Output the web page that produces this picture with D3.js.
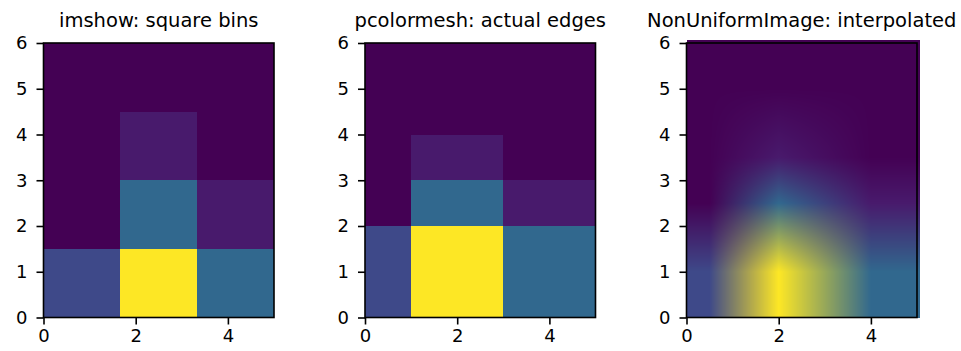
<!DOCTYPE html>
<html>
<head>
<meta charset="utf-8">
<script src="https://cdn.jsdelivr.net/npm/d3@7"></script>
<style>
  body { margin: 0; background: #fff; }
  svg { display: block; font-family: "DejaVu Sans", sans-serif; }
</style>
</head>
<body>
<svg id="chart"></svg>
<script>
const width = 961;
const height = 351;

// bin edges and counts (rows go bottom -> top)
const xedges = [0, 1, 3, 5];
const yedges = [0, 2, 3, 4, 6];
const counts = [
    [10, 45, 15],
    [0, 15, 3],
    [0, 3, 0],
    [0, 0, 0],
];
const titles = [
    "imshow: square bins",
    "pcolormesh: actual edges",
    "NonUniformImage: interpolated",
];
const xTicks = [0, 2, 4];
const yTicks = [0, 1, 2, 3, 4, 5, 6];

const panelLeft = [43.5, 365, 686.5];
const panelWidth = 230.5;
const plotTop = 43;
const plotHeight = 274.5;
const tickLen = 7;

const svg = d3.select("#chart").attr("width", width).attr("height", height);

const color = d3.scaleSequential(d3.interpolateViridis)
    .domain([0, d3.max(counts.flat())]);

// flatten cells with edges
const makeCells = (xe, ye) => {
    const cells = [];
    counts.forEach((row, j) => {
        row.forEach((v, i) => {
            cells.push({ x0: xe[i], x1: xe[i + 1], y0: ye[j], y1: ye[j + 1], v });
        });
    });
    return cells;
};

const drawPanel = (k) => {
    const x = d3.scaleLinear().domain([xedges[0], xedges[xedges.length - 1]])
        .range([panelLeft[k], panelLeft[k] + panelWidth]);
    const y = d3.scaleLinear().domain([yedges[0], yedges[yedges.length - 1]])
        .range([plotTop + plotHeight, plotTop]);
    const g = svg.append("g");

    if (k < 2) {
        let xe = xedges, ye = yedges;
        if (k === 0) {
            // imshow: evenly spaced bins across the extent
            const nx = counts[0].length, ny = counts.length;
            xe = d3.range(nx + 1).map((i) => x.domain()[0] + (i * (x.domain()[1] - x.domain()[0])) / nx);
            ye = d3.range(ny + 1).map((j) => y.domain()[0] + (j * (y.domain()[1] - y.domain()[0])) / ny);
        }
        g.selectAll("rect.cell")
            .data(makeCells(xe, ye))
            .join("rect")
            .attr("class", "cell")
            .attr("x", (d) => x(d.x0))
            .attr("y", (d) => y(d.y1))
            .attr("width", (d) => x(d.x1) - x(d.x0))
            .attr("height", (d) => y(d.y0) - y(d.y1))
            .attr("fill", (d) => color(d.v))
            .attr("shape-rendering", "crispEdges");
    } else {
        // bilinear interpolation of RGB between bin centers
        const xc = xedges.slice(1).map((e, i) => (e + xedges[i]) / 2);
        const yc = yedges.slice(1).map((e, j) => (e + yedges[j]) / 2);
        const rgb = counts.map((row) => row.map((v) => d3.rgb(color(v))));
        const x0 = Math.round(x.range()[0]);
        const x1 = Math.round(x.range()[1]) + 3;
        const y0 = Math.round(y.range()[1]) - 3;
        const y1 = Math.round(y.range()[0]);
        const w = x1 - x0, h = y1 - y0;
        const canvas = document.createElement("canvas");
        canvas.width = w;
        canvas.height = h;
        const ctx = canvas.getContext("2d");
        const img = ctx.createImageData(w, h);
        const locate = (c, v) => {
            if (v <= c[0]) return [0, 0];
            if (v >= c[c.length - 1]) return [c.length - 2, 1];
            let i = d3.bisectRight(c, v) - 1;
            return [i, (v - c[i]) / (c[i + 1] - c[i])];
        };
        for (let py = 0; py < h; py++) {
            const [j, ty] = locate(yc, y.invert(y0 + py + 0.5));
            for (let px = 0; px < w; px++) {
                const [i, tx] = locate(xc, x.invert(x0 + px + 0.5));
                const a = rgb[j][i], b = rgb[j][i + 1];
                const c = rgb[j + 1][i], d = rgb[j + 1][i + 1];
                const o = (py * w + px) * 4;
                ["r", "g", "b"].forEach((ch, n) => {
                    const lo = a[ch] * (1 - tx) + b[ch] * tx;
                    const hi = c[ch] * (1 - tx) + d[ch] * tx;
                    img.data[o + n] = lo * (1 - ty) + hi * ty;
                });
                img.data[o + 3] = 255;
            }
        }
        ctx.putImageData(img, 0, 0);
        g.append("image")
            .attr("x", x0)
            .attr("y", y0)
            .attr("width", w)
            .attr("height", h)
            .attr("preserveAspectRatio", "none")
            .attr("href", canvas.toDataURL());
    }

    // frame
    g.append("rect")
        .attr("x", x.range()[0])
        .attr("y", plotTop)
        .attr("width", panelWidth)
        .attr("height", plotHeight)
        .attr("fill", "none")
        .attr("stroke", "#000")
        .attr("stroke-width", 1.6);

    const xAxis = g.append("g")
        .attr("transform", `translate(0,${plotTop + plotHeight})`)
        .call(d3.axisBottom(x).tickValues(xTicks).tickFormat(d3.format("d")).tickSize(tickLen).tickPadding(5));
    const yAxis = g.append("g")
        .attr("transform", `translate(${x.range()[0]},0)`)
        .call(d3.axisLeft(y).tickValues(yTicks).tickFormat(d3.format("d")).tickSize(tickLen).tickPadding(9));
    [xAxis, yAxis].forEach((ax) => {
        ax.select(".domain").remove();
        ax.selectAll("line").attr("stroke", "#000").attr("stroke-width", 1.6);
        ax.selectAll("text")
            .attr("fill", "#000")
            .style("font-family", "DejaVu Sans")
            .style("font-size", "18px");
    });

    g.append("text")
        .attr("x", x.range()[0] + panelWidth / 2)
        .attr("y", 27)
        .attr("text-anchor", "middle")
        .style("font-size", "19.5px")
        .attr("fill", "#000")
        .text(titles[k]);
};

[0, 1, 2].forEach(drawPanel);
</script>
</body>
</html>
